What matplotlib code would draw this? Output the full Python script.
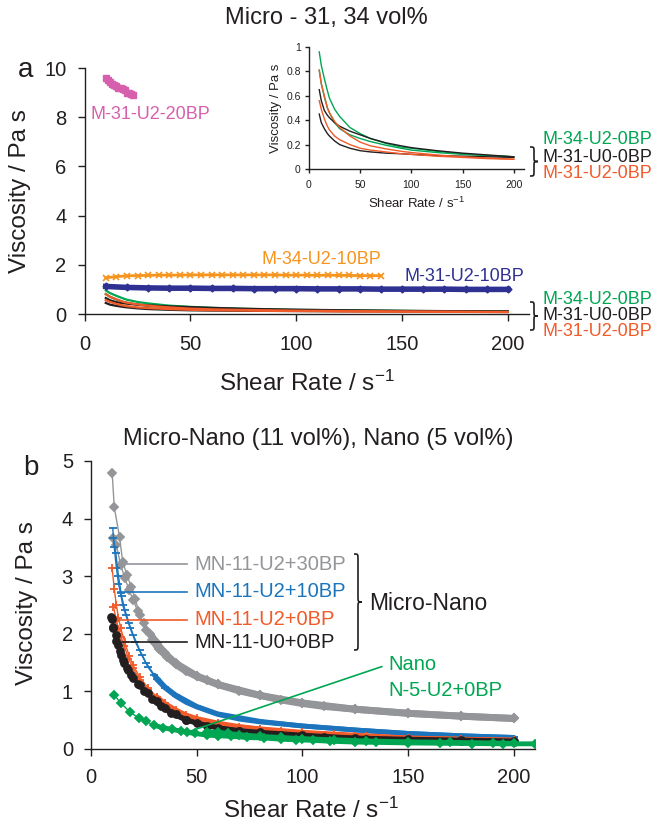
import numpy as np
import matplotlib
matplotlib.use("Agg")
import matplotlib.pyplot as plt
from matplotlib.path import Path
from matplotlib.patches import PathPatch

plt.rcParams['font.family'] = ['Liberation Sans', 'DejaVu Sans']
plt.rcParams['mathtext.fontset'] = 'custom'
plt.rcParams['mathtext.rm'] = 'Liberation Sans'
plt.rcParams['mathtext.it'] = 'Liberation Sans'

# ---- (a) micro suspensions, 31 and 34 vol% ----
x_low = [10, 12, 15, 18, 20, 25, 30, 40, 50, 60, 75, 90, 100, 125, 150, 175, 200]
m34_u2_0bp_1 = [0.96, 0.85, 0.74, 0.64, 0.58, 0.49, 0.43, 0.34, 0.29, 0.25, 0.21, 0.18, 0.17, 0.145, 0.125, 0.11, 0.10]
m34_u2_0bp_2 = [0.81, 0.70, 0.59, 0.50, 0.46, 0.38, 0.33, 0.28, 0.25, 0.225, 0.195, 0.17, 0.155, 0.135, 0.12, 0.11, 0.10]
m31_u0_0bp_1 = [0.65, 0.56, 0.48, 0.44, 0.42, 0.38, 0.35, 0.31, 0.28, 0.25, 0.215, 0.19, 0.175, 0.15, 0.13, 0.115, 0.10]
m31_u0_0bp_2 = [0.45, 0.38, 0.33, 0.29, 0.27, 0.23, 0.20, 0.17, 0.15, 0.14, 0.13, 0.125, 0.12, 0.11, 0.105, 0.10, 0.095]
m31_u2_0bp_1 = [0.81, 0.70, 0.60, 0.50, 0.46, 0.39, 0.34, 0.27, 0.22, 0.19, 0.165, 0.145, 0.135, 0.115, 0.10, 0.09, 0.08]
m31_u2_0bp_2 = [0.56, 0.49, 0.41, 0.35, 0.32, 0.27, 0.24, 0.20, 0.17, 0.155, 0.14, 0.125, 0.12, 0.105, 0.095, 0.085, 0.08]

x_20bp = [10, 11, 12, 13, 14, 15, 16, 17, 18, 19, 20, 21, 22, 23]
m31_u2_20bp = [9.6, 9.5, 9.45, 9.35, 9.3, 9.25, 9.2, 9.2, 9.15, 9.1, 9.0, 9.0, 8.95, 8.9]

x_m34_10bp = list(range(10, 141, 5))
m34_u2_10bp = [1.47, 1.52, 1.55, 1.56, 1.57, 1.58, 1.58, 1.58, 1.59, 1.59, 1.59, 1.59, 1.59, 1.59,
               1.59, 1.59, 1.59, 1.58, 1.58, 1.58, 1.57, 1.58, 1.57, 1.57, 1.56, 1.56, 1.56]
x_m31_10bp = list(range(10, 201, 10))
m31_u2_10bp = [1.12, 1.08, 1.06, 1.05, 1.05, 1.04, 1.04, 1.03, 1.03, 1.03,
               1.02, 1.02, 1.02, 1.01, 1.01, 1.01, 1.01, 1.00, 1.00, 1.00]

# ---- (b) micro-nano 11 vol%, nano 5 vol% ----
x_mn30_1 = [10, 11, 13.5, 15, 17, 19, 21, 23, 26, 29, 32, 36, 40, 45, 50, 55, 60, 70, 80, 90, 100, 110, 125, 150, 175, 200]
mn30_1 = [4.8, 4.2, 3.68, 3.25, 3.02, 2.82, 2.6, 2.32, 2.06, 1.89, 1.74, 1.6, 1.47, 1.35, 1.26, 1.19, 1.12, 1.01, 0.93, 0.85, 0.79, 0.74, 0.69, 0.62, 0.57, 0.53]
x_mn30_2 = [10.5, 12, 14, 16, 18, 20, 22, 25, 28, 31, 35, 40, 50, 60, 80, 100, 125, 150, 175, 200]
mn30_2 = [3.66, 3.54, 3.2, 2.97, 2.76, 2.58, 2.4, 2.18, 2.0, 1.84, 1.66, 1.49, 1.27, 1.12, 0.93, 0.8, 0.69, 0.62, 0.57, 0.53]

x_mn10_1 = [10.3, 11, 12, 13, 14, 15, 16.5, 18.5, 21, 24, 27, 31, 35, 40, 45, 50, 60, 70, 80, 100, 125, 150, 175, 200]
mn10_1 = [3.83, 3.5, 3.15, 2.87, 2.7, 2.5, 2.32, 2.1, 1.86, 1.63, 1.42, 1.21, 1.06, 0.92, 0.81, 0.73, 0.6, 0.52, 0.47, 0.4, 0.33, 0.27, 0.23, 0.2]
x_mn10_2 = [10.6, 11.7, 13, 14.5, 16, 18, 20, 23, 26, 30, 35, 40, 50, 60, 80, 100, 125, 150, 175, 200]
mn10_2 = [3.66, 3.41, 3.0, 2.65, 2.42, 2.18, 1.98, 1.72, 1.5, 1.28, 1.08, 0.94, 0.74, 0.61, 0.48, 0.4, 0.33, 0.27, 0.23, 0.2]

x_mn0_1 = [10, 11, 12, 13, 14, 16, 18, 20, 23, 27, 31, 35, 40, 45, 50, 60, 70, 80, 90, 100, 115, 130, 150, 175, 200]
mn0_1 = [3.14, 2.78, 2.5, 2.28, 2.1, 1.85, 1.62, 1.45, 1.25, 1.06, 0.91, 0.79, 0.68, 0.59, 0.53, 0.45, 0.39, 0.35, 0.32, 0.29, 0.26, 0.23, 0.19, 0.17, 0.155]
x_mn0_2 = [10.6, 12, 13, 14.2, 15.8, 17.7, 20, 23, 27, 31, 35, 40, 50, 60, 80, 100, 125, 150, 175, 200]
mn0_2 = [2.47, 2.24, 2.09, 1.95, 1.78, 1.57, 1.4, 1.2, 1.03, 0.89, 0.77, 0.66, 0.5, 0.43, 0.34, 0.28, 0.23, 0.19, 0.17, 0.15]

x_mnu0_1 = [9.5, 10, 10.6, 11.7, 12.9, 14.2, 15.8, 17.7, 20, 23, 27, 31, 35, 40, 45, 50, 60, 70, 80, 100, 125, 150, 175, 200]
mnu0_1 = [2.3, 2.26, 2.12, 1.98, 1.8, 1.63, 1.49, 1.37, 1.24, 1.11, 0.97, 0.83, 0.71, 0.6, 0.51, 0.45, 0.37, 0.32, 0.29, 0.24, 0.19, 0.17, 0.155, 0.14]
x_mnu0_2 = [10.5, 12, 13.5, 15, 17, 19, 22, 25, 29, 33, 38, 45, 55, 70, 90, 110, 130, 150, 175, 200]
mnu0_2 = [2.1, 1.88, 1.7, 1.55, 1.4, 1.28, 1.13, 1.0, 0.86, 0.74, 0.62, 0.5, 0.4, 0.31, 0.25, 0.21, 0.18, 0.16, 0.145, 0.13]

x_nano_1 = [11, 14, 18.5, 22.5, 26, 30, 34, 38.5, 42.5, 45.3, 49, 55, 60, 66, 74, 82, 90, 97, 105, 113, 125, 135, 150, 165, 180, 195, 210]
nano_1 = [0.94, 0.8, 0.64, 0.54, 0.48, 0.41, 0.37, 0.34, 0.31, 0.29, 0.27, 0.24, 0.23, 0.22, 0.2, 0.19, 0.17, 0.16, 0.15, 0.135, 0.12, 0.115, 0.105, 0.1, 0.095, 0.09, 0.09]
x_nano_2 = [55, 60, 65, 70, 80, 90, 100, 115, 130, 150, 170, 190, 200]
nano_2 = [0.3, 0.29, 0.27, 0.25, 0.22, 0.2, 0.18, 0.16, 0.14, 0.125, 0.115, 0.105, 0.1]

GREEN = '#00a651'
BLACK = '#231f20'
RED = '#f15a29'
ORANGE = '#f7941d'
NAVY = '#2e3192'
PINK = '#d660ad'
GRAY = '#939598'
BLUE = '#1c75bc'

W, H = 656, 825
fig = plt.figure(figsize=(W / 100, H / 100), dpi=100)


def box(l, t, r, b):
    return [l / W, 1 - b / H, (r - l) / W, (b - t) / H]


def px(x, y):
    return x / W, 1 - y / H


def style(ax, fs, tl=5, xpad=9, ypad=7):
    for s in ['top', 'right']:
        ax.spines[s].set_visible(False)
    for s in ['left', 'bottom']:
        ax.spines[s].set_linewidth(1.0)
        ax.spines[s].set_color(BLACK)
    ax.tick_params(direction='out', length=tl, width=1, colors=BLACK, labelsize=fs)
    ax.tick_params(axis='x', pad=xpad)
    ax.tick_params(axis='y', pad=ypad)


def brace(x, top, bot, w):
    # right-facing curly brace, given in pixels
    mid = (top + bot) / 2
    r = min(6, (bot - top) / 6)
    c = x + w / 2
    pts = [(x, top),
           (c, top), (c, top), (c, top + r),
           (c, mid - r),
           (c, mid), (c, mid), (x + w, mid),
           (c, mid), (c, mid), (c, mid + r),
           (c, bot - r),
           (c, bot), (c, bot), (x, bot)]
    codes = [Path.MOVETO,
             Path.CURVE4, Path.CURVE4, Path.CURVE4,
             Path.LINETO,
             Path.CURVE4, Path.CURVE4, Path.CURVE4,
             Path.CURVE4, Path.CURVE4, Path.CURVE4,
             Path.LINETO,
             Path.CURVE4, Path.CURVE4, Path.CURVE4]
    verts = [px(*p) for p in pts]
    fig.patches.append(PathPatch(Path(verts, codes), transform=fig.transFigure,
                                 fill=False, lw=1.2, edgecolor=BLACK))


xlab = 'Shear Rate / s$^{\\mathregular{-1}}$'

# ---------------- panel a ----------------
ax1 = fig.add_axes(box(84.6, 68, 529, 314))
low_sets = [(m34_u2_0bp_1, GREEN), (m34_u2_0bp_2, GREEN),
            (m31_u0_0bp_1, BLACK), (m31_u0_0bp_2, BLACK),
            (m31_u2_0bp_1, RED), (m31_u2_0bp_2, RED)]
for y, c in low_sets:
    ax1.plot(x_low, y, color=c, lw=1.6)
ax1.plot(x_m34_10bp, m34_u2_10bp, color=ORANGE, lw=2.0, marker='x', ms=5, mew=1.2)
ax1.plot(x_m31_10bp, m31_u2_10bp, color=NAVY, lw=4.0, marker='D', ms=3.5)
ax1.plot(x_20bp, m31_u2_20bp, color=PINK, lw=1.5, marker='s', ms=5, ls='none')
ax1.set_xlim(0, 210)
ax1.set_ylim(0, 10)
ax1.set_xticks([0, 50, 100, 150, 200])
ax1.set_yticks([0, 2, 4, 6, 8, 10])
style(ax1, 14.5, xpad=10, ypad=8)
ax1.text(2.6, 8.09, 'M-31-U2-20BP', color=PINK, fontsize=13, va='center')
ax1.text(83.5, 2.2, 'M-34-U2-10BP', color=ORANGE, fontsize=13, va='center')
ax1.text(151, 1.54, 'M-31-U2-10BP', color=NAVY, fontsize=13, va='center')

fig.text(*px(326, 18), 'Micro - 31, 34 vol%', fontsize=17, ha='center', va='center', color=BLACK)
fig.text(*px(18, 70), 'a', fontsize=20, ha='left', va='center', color=BLACK)
fig.text(*px(20, 191), 'Viscosity / Pa s', fontsize=17.5, rotation=90, ha='center', va='center', color=BLACK)
fig.text(*px(307, 383), xlab, fontsize=17.5, ha='center', va='center', color=BLACK)

for ty, lab, c in [(299, 'M-34-U2-0BP', GREEN), (315, 'M-31-U0-0BP', BLACK), (332, 'M-31-U2-0BP', RED)]:
    fig.text(*px(542, ty), lab, fontsize=13, color=c, va='center')
brace(530, 302, 330, 8)

# inset
ins = fig.add_axes(box(309, 47, 524, 169))
for y, c in low_sets:
    ins.plot(x_low, y, color=c, lw=1.0)
ins.set_xlim(0, 210)
ins.set_ylim(0, 1)
ins.set_xticks([0, 50, 100, 150, 200])
ins.set_yticks([0, 0.2, 0.4, 0.6, 0.8, 1])
ins.set_yticklabels(['0', '0.2', '0.4', '0.6', '0.8', '1'])
style(ins, 7.5, tl=3, xpad=5, ypad=3)
ins.set_xlabel(xlab, fontsize=9.5, color=BLACK, labelpad=4)
ins.set_ylabel('Viscosity / Pa s', fontsize=9.5, color=BLACK, labelpad=3)
for ty, lab, c in [(139, 'M-34-U2-0BP', GREEN), (158, 'M-31-U0-0BP', BLACK), (174, 'M-31-U2-0BP', RED)]:
    fig.text(*px(542, ty), lab, fontsize=13, color=c, va='center')
brace(530, 147, 176, 8)

# ---------------- panel b ----------------
ax2 = fig.add_axes(box(91, 461, 535, 749))
series_b = [
    (x_mn30_1, mn30_1, GRAY, 'D', 4, 5.0),
    (x_mn30_2, mn30_2, GRAY, 'D', 4, 5.0),
    (x_mn10_1, mn10_1, BLUE, '_', 6, 3.5),
    (x_mn10_2, mn10_2, BLUE, '_', 6, 3.5),
    (x_mn0_1, mn0_1, RED, '+', 6, 3.5),
    (x_mn0_2, mn0_2, RED, '+', 6, 3.5),
    (x_mnu0_1, mnu0_1, BLACK, 'o', 5, 3.5),
    (x_mnu0_2, mnu0_2, BLACK, 'o', 5, 3.5),
    (x_nano_1, nano_1, GREEN, 'D', 4, 3.5),
    (x_nano_2, nano_2, GREEN, 'D', 4, 3.5),
]
for xs, ys, c, m, ms, band in series_b:
    xs = np.asarray(xs)
    ys = np.asarray(ys)
    ax2.plot(xs, ys, color=c, lw=1.0, marker=m, ms=ms, mew=1.3)
    tail = xs >= 28
    ax2.plot(xs[tail], ys[tail], color=c, lw=band, solid_capstyle='round')
ax2.set_xlim(0, 210)
ax2.set_ylim(0, 5)
ax2.set_xticks([0, 50, 100, 150, 200])
ax2.set_yticks([0, 1, 2, 3, 4, 5])
style(ax2, 14.5, xpad=9, ypad=8)

# leader lines to labels
leaders = [(15.5, 3.21, 'MN-11-U2+30BP', GRAY),
           (12.9, 2.73, 'MN-11-U2+10BP', BLUE),
           (13.7, 2.24, 'MN-11-U2+0BP', RED),
           (14.5, 1.85, 'MN-11-U0+0BP', BLACK)]
for x0, y0, lab, c in leaders:
    ax2.plot([x0, 45.5], [y0, y0], color=c, lw=1.2)
    ax2.text(49, y0, lab, color=c, fontsize=14.5, va='center')
ax2.plot([x_nano_1[9], 137.5], [nano_1[9], 1.43], color=GREEN, lw=1.2)
fig.text(*px(388, 664), 'Nano', color=GREEN, fontsize=14.5, va='center')
fig.text(*px(388, 690), 'N-5-U2+0BP', color=GREEN, fontsize=14.5, va='center')
brace(354, 554, 650, 8)
fig.text(*px(369, 603), 'Micro-Nano', color=BLACK, fontsize=16.5, va='center')

fig.text(*px(318, 439), 'Micro-Nano (11 vol%), Nano (5 vol%)', fontsize=17, ha='center', va='center', color=BLACK)
fig.text(*px(23, 468), 'b', fontsize=20, ha='left', va='center', color=BLACK)
fig.text(*px(27, 603), 'Viscosity / Pa s', fontsize=17.5, rotation=90, ha='center', va='center', color=BLACK)
fig.text(*px(311, 810), xlab, fontsize=17.5, ha='center', va='center', color=BLACK)

fig.savefig('out.png', dpi=100)
